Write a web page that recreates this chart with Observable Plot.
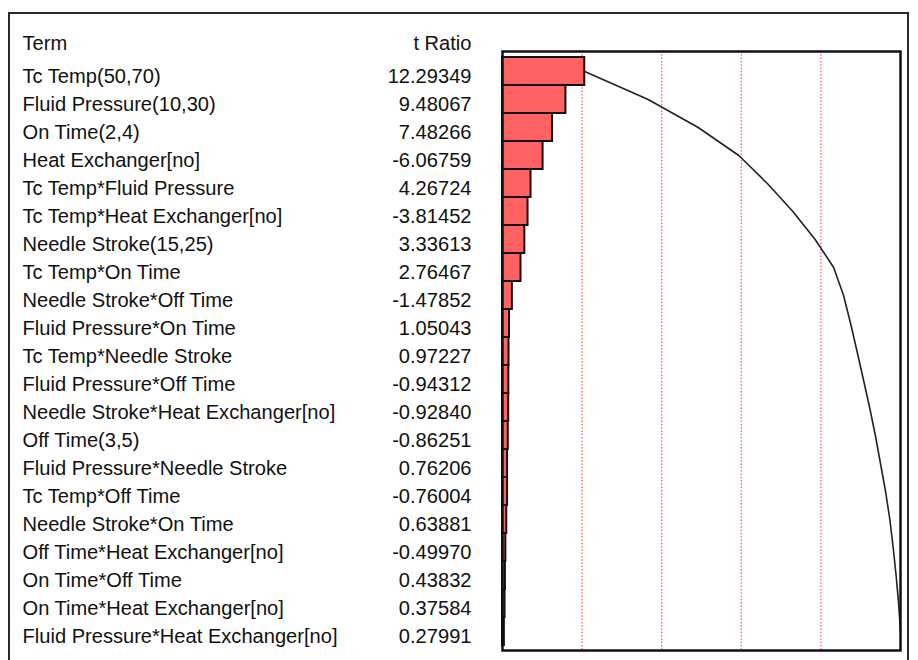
<!DOCTYPE html>
<html>
<head>
<meta charset="utf-8">
<script src="https://cdn.jsdelivr.net/npm/d3@7"></script>
<script src="https://cdn.jsdelivr.net/npm/@observablehq/plot@0.6"></script>
<style>
  html, body { margin: 0; padding: 0; background: #fff; }
  #wrap { position: relative; width: 918px; height: 660px; overflow: hidden; }
  #outer { position: absolute; left: 8px; top: 12px; width: 901px; height: 700px; border: 2px solid #2a2a2a; box-sizing: border-box; }
  #chart { position: absolute; left: 0; top: 0; }
</style>
</head>
<body>
<div id="wrap">
  <div id="outer"></div>
  <div id="chart"></div>
</div>
<script>
const terms = [
  "Tc Temp(50,70)",
  "Fluid Pressure(10,30)",
  "On Time(2,4)",
  "Heat Exchanger[no]",
  "Tc Temp*Fluid Pressure",
  "Tc Temp*Heat Exchanger[no]",
  "Needle Stroke(15,25)",
  "Tc Temp*On Time",
  "Needle Stroke*Off Time",
  "Fluid Pressure*On Time",
  "Tc Temp*Needle Stroke",
  "Fluid Pressure*Off Time",
  "Needle Stroke*Heat Exchanger[no]",
  "Off Time(3,5)",
  "Fluid Pressure*Needle Stroke",
  "Tc Temp*Off Time",
  "Needle Stroke*On Time",
  "Off Time*Heat Exchanger[no]",
  "On Time*Off Time",
  "On Time*Heat Exchanger[no]",
  "Fluid Pressure*Heat Exchanger[no]"
];
const tRatios = [
  12.29349, 9.48067, 7.48266, -6.06759, 4.26724, -3.81452, 3.33613, 2.76467,
  -1.47852, 1.05043, 0.97227, -0.94312, -0.92840, -0.86251, 0.76206, -0.76004,
  0.63881, -0.49970, 0.43832, 0.37584, 0.27991
];
const headers = ["Term", "t Ratio"];
const gridFractions = [0.2, 0.4, 0.6, 0.8];

let cum = 0;
const rows = terms.map((term, i) => {
  const a = Math.abs(tRatios[i]);
  cum += a;
  return { term, t: tRatios[i], abs: a, cum };
});
const total = cum;
const gridVals = gridFractions.map(f => f * total);
const fs = 20.1;

const plot = Plot.plot({
  width: 918,
  height: 660,
  marginLeft: 502,
  marginRight: 18,
  marginTop: 51,
  marginBottom: 10,
  style: { fontFamily: "'Liberation Sans', Arial, sans-serif", background: "transparent", overflow: "visible" },
  x: { domain: [0, total], axis: null },
  y: { domain: terms, padding: 0, axis: null },
  marks: [
    Plot.ruleX(gridVals, { stroke: "#ff2a2a", strokeWidth: 1.3, strokeDasharray: "1.5,1.8", strokeOpacity: 0.75 }),
    Plot.barX(rows, { x: "abs", y: "term", fill: "#ff6262", stroke: "#111", strokeWidth: 2 }),
    Plot.line(rows, { x: "cum", y: "term", stroke: "#222", strokeWidth: 1.6 }),
    Plot.frame({ stroke: "#111", strokeWidth: 2.5 }),
    Plot.text(rows, { y: "term", text: "term", frameAnchor: "left", textAnchor: "start", dx: -480, dy: 5, fontSize: fs, fill: "#111" }),
    Plot.text(rows, { y: "term", text: d => d.t.toFixed(5), frameAnchor: "left", textAnchor: "end", dx: -31, dy: 5, fontSize: fs, fill: "#111" }),
    Plot.text([headers[0]], { text: d => d, frameAnchor: "top-left", lineAnchor: "middle", textAnchor: "start", dx: -480, dy: -7.5, fontSize: fs, fill: "#111" }),
    Plot.text([headers[1]], { text: d => d, frameAnchor: "top-left", lineAnchor: "middle", textAnchor: "end", dx: -31, dy: -7.5, fontSize: fs, fill: "#111" })
  ]
});
document.getElementById("chart").appendChild(plot);
</script>
</body>
</html>
